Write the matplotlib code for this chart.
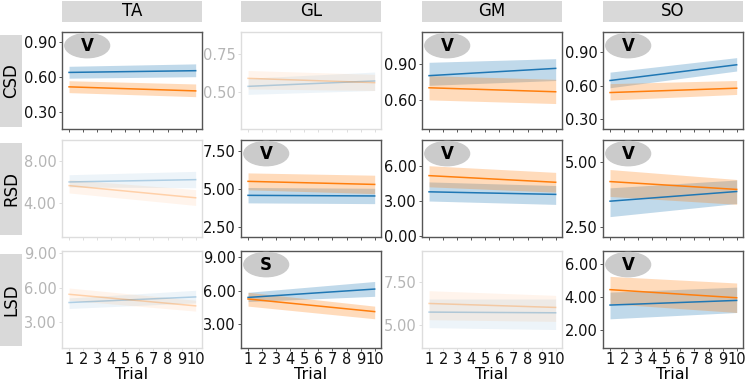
import matplotlib
matplotlib.use("Agg")
import matplotlib.pyplot as plt
from matplotlib.patches import Ellipse, Rectangle

plt.rcParams['font.family'] = ['DejaVu Sans']

muscles = ['TA', 'GL', 'GM', 'SO']
measures = ['CSD', 'RSD', 'LSD']
trials = list(range(1, 11))
ends = [1, 10]

# regression line values at trial 1 and trial 10 (one pair per muscle)
csd_blue = [(0.64, 0.655), (0.537, 0.572), (0.80, 0.86), (0.645, 0.786)]
csd_blue_lo = [(0.59, 0.603), (0.485, 0.51), (0.72, 0.76), (0.58, 0.73)]
csd_blue_hi = [(0.693, 0.714), (0.59, 0.63), (0.91, 0.94), (0.72, 0.85)]
csd_orange = [(0.515, 0.48), (0.589, 0.561), (0.70, 0.667), (0.537, 0.576)]
csd_orange_lo = [(0.465, 0.43), (0.52, 0.51), (0.60, 0.57), (0.47, 0.52)]
csd_orange_hi = [(0.568, 0.54), (0.64, 0.615), (0.80, 0.77), (0.617, 0.645)]

rsd_blue = [(6.05, 6.27), (4.59, 4.55), (3.82, 3.60), (3.49, 3.86)]
rsd_blue_lo = [(5.57, 5.50), (4.10, 4.05), (3.03, 2.74), (2.90, 3.40)]
rsd_blue_hi = [(6.74, 7.06), (5.10, 5.05), (4.67, 4.36), (4.00, 4.30)]
rsd_orange = [(5.70, 4.54), (5.50, 5.30), (5.21, 4.64), (4.24, 3.94)]
rsd_orange_lo = [(5.00, 3.81), (4.95, 4.70), (4.25, 3.79), (3.67, 3.37)]
rsd_orange_hi = [(6.27, 5.32), (6.05, 5.90), (6.06, 5.49), (4.70, 4.32)]

lsd_blue = [(4.70, 5.19), (5.40, 6.15), (5.74, 5.70), (3.52, 3.80)]
lsd_blue_lo = [(4.18, 4.67), (5.03, 5.50), (4.84, 4.73), (2.69, 3.07)]
lsd_blue_hi = [(5.10, 5.77), (5.86, 6.83), (6.50, 6.50), (4.30, 4.60)]
lsd_orange = [(5.42, 4.41), (5.26, 4.13), (6.24, 6.01), (4.45, 3.96)]
lsd_orange_lo = [(4.90, 3.95), (4.62, 3.49), (5.30, 5.20), (3.60, 3.07)]
lsd_orange_hi = [(5.97, 4.90), (5.86, 4.62), (6.98, 6.71), (5.25, 4.85)]

blue_rows = [(csd_blue, csd_blue_lo, csd_blue_hi),
             (rsd_blue, rsd_blue_lo, rsd_blue_hi),
             (lsd_blue, lsd_blue_lo, lsd_blue_hi)]
orange_rows = [(csd_orange, csd_orange_lo, csd_orange_hi),
               (rsd_orange, rsd_orange_lo, rsd_orange_hi),
               (lsd_orange, lsd_orange_lo, lsd_orange_hi)]

yticks = [
    [[0.3, 0.6, 0.9], [0.5, 0.75], [0.6, 0.9], [0.3, 0.6, 0.9]],
    [[4, 8], [2.5, 5, 7.5], [0, 3, 6], [2.5, 5]],
    [[3, 6, 9], [3, 6, 9], [5, 7.5], [2, 4, 6]],
]
ylims = [
    [(0.15, 0.99), (0.26, 0.89), (0.36, 1.16), (0.21, 1.08)],
    [(0.8, 10.05), (1.88, 8.19), (-0.06, 8.27), (2.12, 5.83)],
    [(0.73, 9.2), (0.87, 9.56), (3.66, 9.28), (0.93, 6.78)],
]
# panel badge: None means faded (non-significant) panel
badges = [
    ['V', None, 'V', 'V'],
    [None, 'V', 'V', 'V'],
    [None, 'S', None, 'V'],
]

BLUE = '#1f77b4'
ORANGE = '#ff7f0e'

W, H = 747, 382
fig = plt.figure(figsize=(W / 100, H / 100), dpi=100)

col_left = [62, 241, 422, 603]
col_w = 140
row_top = [32, 140, 251]
row_h = 97


def px(x, y, w, h):
    return [x / W, 1 - (y + h) / H, w / W, h / H]


for c, m in enumerate(muscles):
    sax = fig.add_axes(px(col_left[c], 1, col_w, 21))
    sax.set_axis_off()
    sax.add_patch(Rectangle((0, 0), 1, 1, color='#d9d9d9', transform=sax.transAxes))
    sax.text(0.5, 0.5, m, ha='center', va='center', fontsize=12)

for r, meas in enumerate(measures):
    sax = fig.add_axes(px(0, row_top[r] + 3, 22, row_h - 5))
    sax.set_axis_off()
    sax.add_patch(Rectangle((0, 0), 1, 1, color='#d9d9d9', transform=sax.transAxes))
    sax.text(0.5, 0.5, meas, ha='center', va='center', fontsize=12, rotation=90)

for r in range(3):
    for c in range(4):
        ax = fig.add_axes(px(col_left[c], row_top[r], col_w, row_h))
        faded = badges[r][c] is None
        la = 0.3 if faded else 1.0
        ba = 0.08 if faded else 0.28

        for series, col in ((blue_rows[r], BLUE), (orange_rows[r], ORANGE)):
            line, lo, hi = series
            ax.fill_between(ends, lo[c], hi[c], color=col, alpha=ba, lw=0)
            ax.plot(ends, line[c], color=col, lw=1.1, alpha=la)

        ax.set_xlim(0.5, 10.45)
        ax.set_ylim(*ylims[r][c])
        ax.set_yticks(yticks[r][c])
        ax.set_yticklabels(['%.2f' % v for v in yticks[r][c]])
        ax.set_xticks(trials)
        if r == 2:
            ax.set_xticklabels([str(t) for t in trials])
            ax.set_xlabel('Trial', fontsize=11.5, labelpad=0)
        else:
            ax.set_xticklabels([])

        spine_c = '#dddddd' if faded else '#555555'
        lab_c = '#b5b5b5' if faded else '#111111'
        for s in ax.spines.values():
            s.set_color(spine_c)
            s.set_linewidth(1.0)
        ax.tick_params(axis='both', labelsize=10.5, length=2.5, width=0.7,
                       colors=spine_c, labelcolor=lab_c, pad=1.5)
        ax.tick_params(axis='x', labelsize=10.5, labelcolor='#111111', pad=0.5)

        if not faded:
            ax.add_patch(Ellipse((0.18, 0.86), 0.32, 0.25, transform=ax.transAxes,
                                 color='#cbcbcb', zorder=5, clip_on=False))
            ax.text(0.18, 0.855, badges[r][c], transform=ax.transAxes, ha='center',
                    va='center', fontsize=12, fontweight='bold', zorder=6)

fig.savefig('out.png', dpi=100)
